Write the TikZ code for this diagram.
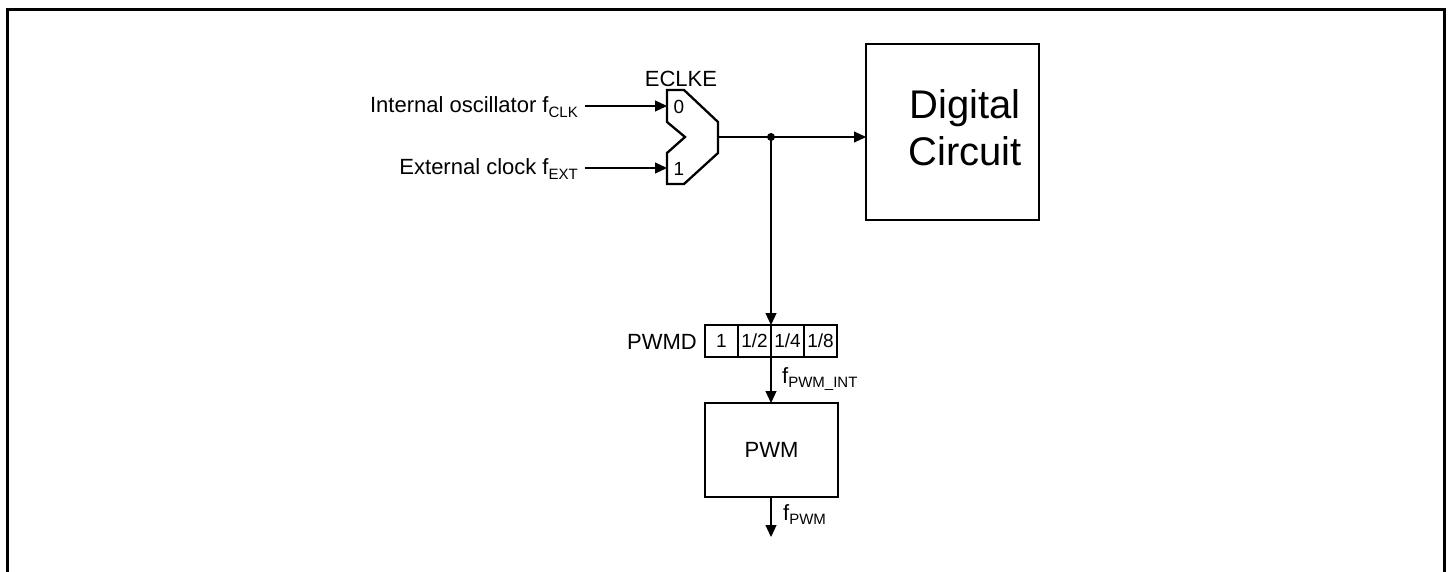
\documentclass[tikz,border=0pt]{standalone}
\usepackage{fontspec}
\setmainfont{Liberation Sans}
\usetikzlibrary{arrows.meta}
\newcommand\mysub[1]{\raisebox{-0.22em}{\fontsize{15}{15}\selectfont #1}}
\newcommand\fmain{\fontsize{22}{26}\selectfont}
\newcommand\fsmall{\fontsize{19}{21}\selectfont}
\begin{document}
\begin{tikzpicture}[x=1pt,y=-1pt,
  conn/.style={line width=1.2pt,-{Triangle[length=12pt,width=11pt]}},
  wire/.style={line width=1.2pt},
  blk/.style={draw,line width=2.3pt,inner sep=0pt,outer sep=0pt},
  lbl/.style={inner sep=0pt,font=\fmain},
  cell/.style={draw,line width=1.8pt,minimum width=33pt,minimum height=32pt,inner sep=0pt,outer sep=0pt,font=\fsmall}]
\useasboundingbox (0,0) rectangle (1449,572);
% frame
\draw[line width=3pt] (7,572) -- (7,10) -- (1444,10) -- (1444,572);
% mux
\draw[line width=2.3pt,line join=miter] (667,90) -- (684,90) -- (718,122) -- (718,153) -- (684,184) -- (667,184) -- (667,153) -- (685,137) -- (667,122) -- cycle;
\coordinate (in0) at (667,106);
\coordinate (in1) at (667,168);
\coordinate (muxout) at (718,137);
\node[lbl,anchor=base] (eclke) at (681,87) {ECLKE};
\node[inner sep=0pt,font=\fsmall] (zero) at (679,107) {0};
\node[inner sep=0pt,font=\fsmall] (one) at (679,169) {1};
% input labels
\node[lbl,anchor=base east] (intlab) at (578,113) {Internal oscillator f\mysub{CLK}};
\node[lbl,anchor=base east] (extlab) at (578,175) {External clock f\mysub{EXT}};
\coordinate (intend) at (585,106);
\coordinate (extend) at (585,168);
\draw[conn] (intend) -- (in0);
\draw[conn] (extend) -- (in1);
% digital circuit
\node[blk,minimum width=173pt,minimum height=176pt,anchor=north west] (dig) at (866,44) {};
\node[inner sep=0pt,align=center,font=\fontsize{40}{47}\selectfont] (digtxt) at (965,128) {Digital\\Circuit};
\coordinate (junc) at (771,137);
\draw[wire] (muxout) -- (junc);
\draw[conn] (junc) -- (dig.west|-junc);
\fill (junc) circle (4pt);
% PWMD
\node[cell] (c1) at (721.5,341) {1};
\node[cell] (c2) at (754.5,341) {1/2};
\node[cell] (c3) at (787.5,341) {1/4};
\node[cell] (c4) at (820.5,341) {1/8};
\node[lbl,anchor=base east] (pwmd) at (697,349) {PWMD};
\draw[conn] (junc) -- (c2.north east);
% PWM
\node[blk,minimum width=133pt,minimum height=94pt,font=\fmain] (pwm) at (771.5,450) {PWM};
\draw[conn] (c2.south east) -- (c2.south east|-pwm.north);
\node[lbl,anchor=base west] (fint) at (782,383) {f\mysub{PWM\_INT}};
\coordinate (pwmout) at (771,537);
\draw[conn] (pwm.south-|pwmout) -- (pwmout);
\node[lbl,anchor=base west] (fpwm) at (783,520) {f\mysub{PWM}};
\end{tikzpicture}
\end{document}
